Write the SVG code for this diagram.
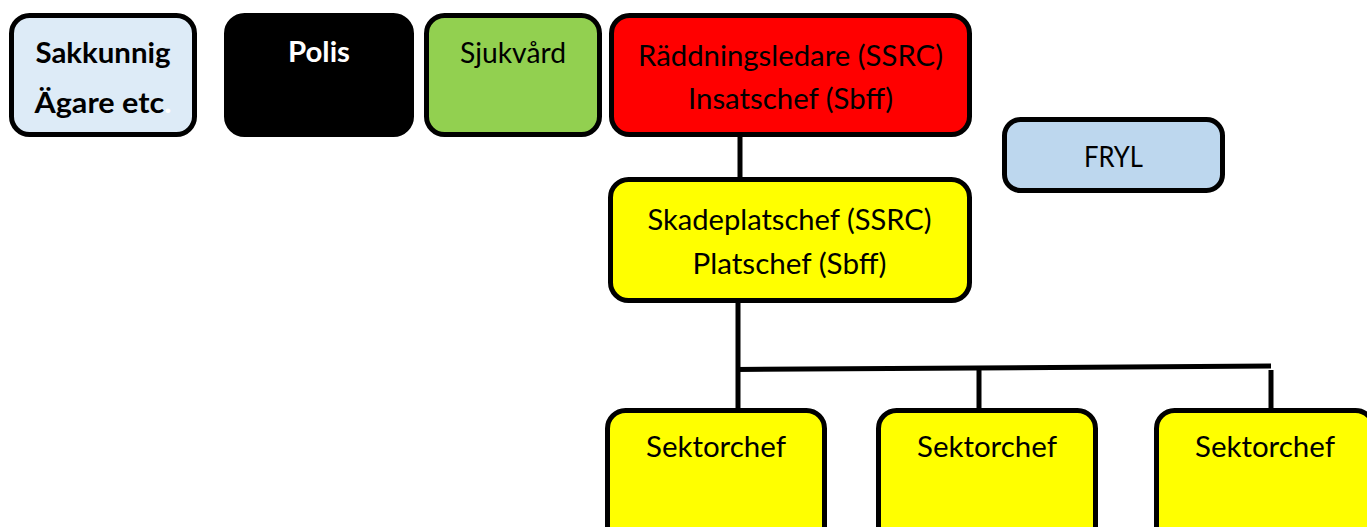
<svg xmlns="http://www.w3.org/2000/svg" width="1367" height="527" viewBox="0 0 1367 527">
<style>
.box{stroke:#000;stroke-width:5}
.t{font-family:Lato,"Open Sans","Liberation Sans",sans-serif;font-size:29px;fill:#000;text-anchor:middle}
.b{font-weight:bold}
.w{fill:#fff}
.c{stroke:#000;stroke-width:5;fill:none}
</style>
<rect width="1367" height="527" fill="#fff"/>
<g id="connectors">
<path class="c" d="M740 137V178"/>
<path class="c" d="M738 302V409"/>
<path class="c" d="M736 369.5L1271 366" stroke-width="6"/>
<path class="c" d="M979 368V409"/>
<path class="c" d="M1271 370V409"/>
</g>
<g id="sakkunnig">
<rect class="box" x="11.5" y="15.5" width="183" height="119" rx="18" fill="#DDEBF7"/>
<text class="t b" x="103" y="63" textLength="135" lengthAdjust="spacingAndGlyphs">Sakkunnig</text>
<text class="t b" x="103" y="113" textLength="137" lengthAdjust="spacingAndGlyphs">Ägare etc<tspan class="w">.</tspan></text>
</g>
<g id="polis">
<rect class="box" x="226.5" y="15.5" width="185" height="119" rx="18" fill="#000"/>
<text class="t b w" x="319" y="62" textLength="62" lengthAdjust="spacingAndGlyphs">Polis</text>
</g>
<g id="sjukvard">
<rect class="box" x="426.5" y="15.5" width="173" height="119" rx="18" fill="#92D050"/>
<text class="t" x="513" y="63" textLength="106" lengthAdjust="spacingAndGlyphs">Sjukvård</text>
</g>
<g id="raddningsledare">
<rect class="box" x="611.5" y="15.5" width="358" height="119" rx="18" fill="#FF0000"/>
<text class="t" x="790.5" y="66" textLength="305" lengthAdjust="spacingAndGlyphs">Räddningsledare (SSRC)</text>
<text class="t" x="790.5" y="109" textLength="205" lengthAdjust="spacingAndGlyphs">Insatschef (Sbff)</text>
</g>
<g id="fryl">
<rect class="box" x="1004.5" y="119.5" width="218" height="71" rx="16" fill="#BDD7EE"/>
<text class="t" x="1113.5" y="167" textLength="59" lengthAdjust="spacingAndGlyphs">FRYL</text>
</g>
<g id="skadeplatschef">
<rect class="box" x="610.5" y="179.5" width="359" height="121" rx="18" fill="#FFFF00"/>
<text class="t" x="789.5" y="230" textLength="284" lengthAdjust="spacingAndGlyphs">Skadeplatschef (SSRC)</text>
<text class="t" x="789.5" y="274" textLength="194" lengthAdjust="spacingAndGlyphs">Platschef (Sbff)</text>
</g>
<g id="sektorchef1">
<rect class="box" x="607.5" y="410.5" width="217" height="150" rx="18" fill="#FFFF00"/>
<text class="t" x="716" y="457" textLength="140" lengthAdjust="spacingAndGlyphs">Sektorchef</text>
</g>
<g id="sektorchef2">
<rect class="box" x="878.5" y="410.5" width="217" height="150" rx="18" fill="#FFFF00"/>
<text class="t" x="987" y="457" textLength="140" lengthAdjust="spacingAndGlyphs">Sektorchef</text>
</g>
<g id="sektorchef3">
<rect class="box" x="1156.5" y="410.5" width="217" height="150" rx="18" fill="#FFFF00"/>
<text class="t" x="1265" y="457" textLength="140" lengthAdjust="spacingAndGlyphs">Sektorchef</text>
</g>
</svg>
